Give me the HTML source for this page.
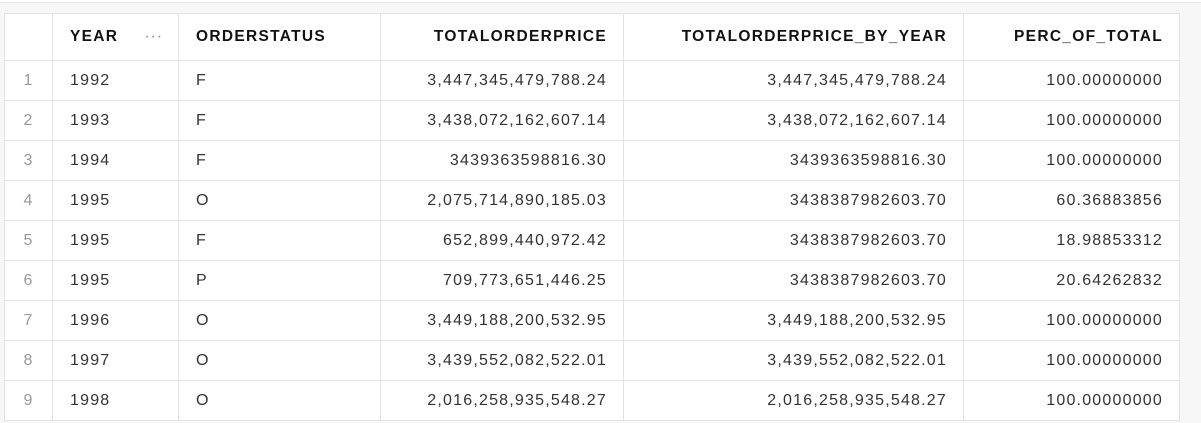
<!DOCTYPE html>
<html><head><meta charset="utf-8"><style>
html,body{margin:0;padding:0;width:1201px;height:423px;overflow:hidden;background:#f7f7f7;font-family:"Liberation Sans",sans-serif;}
.top{position:absolute;left:0;top:0;width:1201px;height:2px;background:#fff;border-bottom:1px solid #e6e6e6}
table{position:absolute;left:4px;top:13px;border-collapse:collapse;table-layout:fixed;background:#fff;}
td,th{border:1px solid #e3e3e3;padding:0 17px;font-size:16px;letter-spacing:1.2px;white-space:nowrap;overflow:hidden}
th{height:46px;font-weight:bold;color:#111;text-align:left;font-size:15.5px;letter-spacing:1.3px}
td{height:39px;color:#333}
td.r,th.r{padding-right:16px}
.n{text-align:center;color:#999;padding:0}
.dots{float:right;color:#888;font-weight:normal;letter-spacing:1px;margin-right:-2px}
</style></head><body>
<div class="top"></div>
<table>
<colgroup><col style="width:48px"><col style="width:126px"><col style="width:202px"><col style="width:243px"><col style="width:340px"><col style="width:216px"></colgroup>
<tr>
<th></th>
<th>YEAR<span class="dots">···</span></th>
<th>ORDERSTATUS</th>
<th class="r" style="text-align:right">TOTALORDERPRICE</th>
<th class="r" style="text-align:right">TOTALORDERPRICE_BY_YEAR</th>
<th class="r" style="text-align:right">PERC_OF_TOTAL</th>
</tr>
<tr><td class="n">1</td><td>1992</td><td>F</td><td class="r" style="text-align:right">3,447,345,479,788.24</td><td class="r" style="text-align:right">3,447,345,479,788.24</td><td class="r" style="text-align:right">100.00000000</td></tr>
<tr><td class="n">2</td><td>1993</td><td>F</td><td class="r" style="text-align:right">3,438,072,162,607.14</td><td class="r" style="text-align:right">3,438,072,162,607.14</td><td class="r" style="text-align:right">100.00000000</td></tr>
<tr><td class="n">3</td><td>1994</td><td>F</td><td class="r" style="text-align:right">3439363598816.30</td><td class="r" style="text-align:right">3439363598816.30</td><td class="r" style="text-align:right">100.00000000</td></tr>
<tr><td class="n">4</td><td>1995</td><td>O</td><td class="r" style="text-align:right">2,075,714,890,185.03</td><td class="r" style="text-align:right">3438387982603.70</td><td class="r" style="text-align:right">60.36883856</td></tr>
<tr><td class="n">5</td><td>1995</td><td>F</td><td class="r" style="text-align:right">652,899,440,972.42</td><td class="r" style="text-align:right">3438387982603.70</td><td class="r" style="text-align:right">18.98853312</td></tr>
<tr><td class="n">6</td><td>1995</td><td>P</td><td class="r" style="text-align:right">709,773,651,446.25</td><td class="r" style="text-align:right">3438387982603.70</td><td class="r" style="text-align:right">20.64262832</td></tr>
<tr><td class="n">7</td><td>1996</td><td>O</td><td class="r" style="text-align:right">3,449,188,200,532.95</td><td class="r" style="text-align:right">3,449,188,200,532.95</td><td class="r" style="text-align:right">100.00000000</td></tr>
<tr><td class="n">8</td><td>1997</td><td>O</td><td class="r" style="text-align:right">3,439,552,082,522.01</td><td class="r" style="text-align:right">3,439,552,082,522.01</td><td class="r" style="text-align:right">100.00000000</td></tr>
<tr><td class="n">9</td><td>1998</td><td>O</td><td class="r" style="text-align:right">2,016,258,935,548.27</td><td class="r" style="text-align:right">2,016,258,935,548.27</td><td class="r" style="text-align:right">100.00000000</td></tr>
</table>
</body></html>
